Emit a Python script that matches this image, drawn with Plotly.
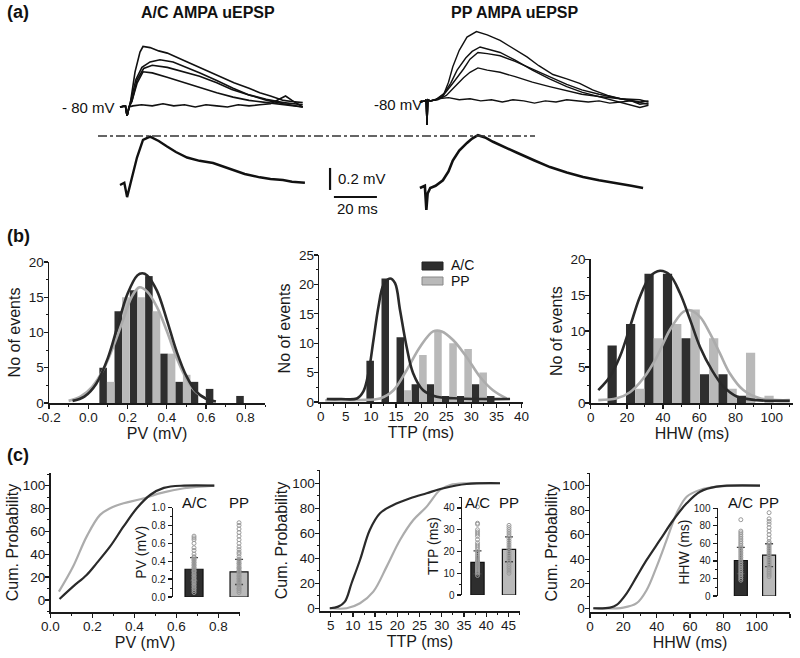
import plotly.graph_objects as go

W, H = 800, 658
def px(x): return x / W
def py(y): return 1 - y / H

FONT = "Liberation Sans, Arial, Helvetica, sans-serif"
DARK = "#2e2e2e"
LIGHT = "#b9b9b9"
DCURVE = "#2a2a2a"
LCURVE = "#acacac"

# ---------------- panel (a): example traces (time in ms, voltage re -80 mV in mV)
ac1_t = [0, 2.5, 3.3, 4.2, 5, 7, 9.3, 10.7, 14, 18, 22, 30, 37, 45, 53, 60, 65, 70, 76, 80, 85]
ac1_v = [0, 0.01, -0.08, 0.0, 0.06, 0.32, 0.5, 0.55, 0.54, 0.51, 0.49, 0.42, 0.36, 0.29, 0.22, 0.17, 0.13, 0.1, 0.06, 0.05, 0.04]
ac2_t = [0, 2.5, 3.3, 4.2, 5.1, 7.4, 10.2, 14, 18.6, 24.7, 30, 37.2, 45, 52.6, 60, 68.4, 76, 85]
ac2_v = [0, 0.01, -0.08, 0.0, 0.06, 0.25, 0.36, 0.41, 0.43, 0.41, 0.37, 0.31, 0.24, 0.17, 0.11, 0.06, 0.03, 0.0]
ac3_t = [0, 2.5, 3.3, 4.2, 5.5, 8, 11, 15, 22, 30, 37, 45, 52, 60, 68, 76, 85]
ac3_v = [0, 0.01, -0.08, 0, 0.05, 0.25, 0.35, 0.38, 0.36, 0.32, 0.28, 0.22, 0.16, 0.11, 0.07, 0.04, 0.02]
ac4_t = [0, 2.5, 3.3, 4.2, 5.5, 8, 10.7, 15, 21.9, 30, 37.2, 45, 52.6, 60, 68.4, 76, 85]
ac4_v = [0, 0.01, -0.08, 0, 0.05, 0.22, 0.32, 0.31, 0.27, 0.22, 0.18, 0.13, 0.09, 0.06, 0.04, 0.02, 0]
ac5_t = [0, 2.5, 3.3, 4.2, 6, 10, 15, 20, 25, 30, 35, 40, 45, 50, 55, 60, 65, 70, 74, 77, 80, 83, 85]
ac5_v = [0, 0.01, -0.08, 0, 0.01, 0.02, 0.01, 0.03, 0.01, 0.02, 0, 0.02, 0.01, 0, 0.02, 0.01, 0.02, 0.03, 0.07, 0.1, 0.06, 0.02, 0]
acavg_t = [0, 2, 3.3, 4.2, 5.6, 7.9, 10.7, 14, 18, 21.9, 26, 31.2, 37, 43.3, 48, 52.6, 58, 65, 70, 75.8, 80, 86]
acavg_v = [0, 0.02, -0.11, -0.03, 0.07, 0.25, 0.41, 0.44, 0.4, 0.35, 0.3, 0.25, 0.22, 0.2, 0.17, 0.14, 0.1, 0.07, 0.055, 0.045, 0.03, 0.02]

pp1_t = [-3.3, -1, -0.4, 0, 0.4, 1.5, 4, 7.4, 10, 12, 15, 18.6, 23, 28, 34, 40, 46.5, 52, 58.6, 65, 71, 77, 84, 90, 95, 99, 103]
pp1_v = [0, 0.01, 0.02, -0.21, 0.02, 0.01, 0.02, 0.05, 0.18, 0.32, 0.47, 0.59, 0.64, 0.61, 0.56, 0.49, 0.41, 0.33, 0.25, 0.21, 0.17, 0.11, 0.06, 0.03, 0.01, 0, -0.02]
pp2_t = [-3.3, -1, -0.4, 0, 0.4, 1.5, 4, 8, 11, 14, 18, 21, 24.7, 29, 34, 41, 49, 57, 65, 72, 80, 90, 99, 103]
pp2_v = [0, 0.01, 0.02, -0.21, 0.02, 0.01, 0.02, 0.08, 0.17, 0.29, 0.4, 0.46, 0.5, 0.48, 0.45, 0.38, 0.29, 0.21, 0.14, 0.09, 0.05, 0.0, -0.05, -0.03]
pp3_t = [-3.3, -1, -0.4, 0, 0.4, 1.5, 4, 8, 12, 17, 20, 23.7, 28, 34, 41, 49, 57, 65, 72, 80, 90, 99, 103]
pp3_v = [0, 0.01, 0.02, -0.21, 0.02, 0.01, 0.02, 0.07, 0.17, 0.3, 0.39, 0.45, 0.44, 0.42, 0.37, 0.3, 0.23, 0.16, 0.11, 0.07, 0.03, 0.0, 0.01]
pp4_t = [-3.3, -1, -0.4, 0, 0.4, 1.5, 5, 9, 12, 17, 20, 23.7, 28, 34, 41, 49, 57, 65, 72, 80, 90, 99, 103]
pp4_v = [0, 0.01, 0.02, -0.21, 0.02, 0.01, 0.02, 0.06, 0.12, 0.22, 0.27, 0.31, 0.29, 0.27, 0.23, 0.18, 0.14, 0.1, 0.07, 0.05, 0.03, 0.02, 0.0]
pp5_t = [-3.3, -1, -0.4, 0, 0.4, 1.5, 5, 10, 15, 20, 25, 30, 35, 40, 45, 50, 55, 60, 65, 70, 75, 80, 85, 90, 95, 99, 103]
pp5_v = [0, 0.01, 0.02, -0.21, 0.02, 0.01, 0.03, 0.04, 0.02, 0.03, 0.01, 0.02, 0.0, 0.02, 0.01, -0.01, 0.01, 0.0, 0.02, 0.01, 0.0, 0.01, -0.01, 0.0, 0.01, -0.02, -0.01]
ppavg_t = [-3.3, -1, -0.3, 0.3, 1.5, 4, 7.4, 10, 12, 15, 18.6, 21, 23.7, 27, 30.7, 36, 41.9, 50, 57.2, 65, 72.6, 80, 88.4, 95, 100.5]
ppavg_v = [0, 0.02, -0.2, -0.05, 0.0, 0.02, 0.07, 0.15, 0.25, 0.34, 0.41, 0.45, 0.48, 0.46, 0.42, 0.37, 0.32, 0.25, 0.19, 0.14, 0.1, 0.07, 0.045, 0.02, 0.0]

scale_mv = 0.2
scale_ms = 20

# ---------------- panel (b): histograms
pv_bins = [0.095, 0.172, 0.25, 0.328, 0.405, 0.482, 0.56, 0.637, 0.715, 0.792]
pv_ac = [5, 13, 16, 18, 7, 3, 3, 2, 0, 1]
pv_pp = [3, 15, 15, 13, 7, 4, 0, 0, 0, 0]
pv_fit_x_ac = [-0.08, -0.02, 0.04, 0.10, 0.15, 0.20, 0.25, 0.275, 0.30, 0.35, 0.40, 0.45, 0.50, 0.55, 0.60, 0.65]
pv_fit_ac = [0.3, 0.9, 2.7, 6.4, 11.0, 15.5, 18.1, 18.4, 18.1, 15.9, 11.8, 7.3, 3.8, 1.6, 0.6, 0.2]
pv_fit_x_pp = [-0.10, -0.04, 0.02, 0.08, 0.13, 0.18, 0.22, 0.26, 0.30, 0.35, 0.40, 0.45, 0.50, 0.55, 0.60]
pv_fit_pp = [0.3, 0.9, 2.3, 4.9, 8.2, 12.0, 15.0, 16.4, 15.8, 13.6, 10.2, 6.4, 3.4, 1.5, 0.6]
pv_ticks = [-0.2, 0.0, 0.2, 0.4, 0.6, 0.8]
pv_ticktext = ["-0.2", "0.0", "0.2", "0.4", "0.6", "0.8"]

ttp_bins = [10.6, 13.6, 16.6, 19.6, 22.6, 25.6, 28.6, 31.6, 34.6]
ttp_ac = [7, 21, 11, 3, 3, 1, 1, 3, 1]
ttp_pp = [0, 0, 2, 8, 12, 10, 9, 5, 0]
ttp_fit_x_ac = [1.2, 4, 7.2, 8.5, 9.5, 10.5, 11.5, 12.5, 13.8, 14.8, 15.8, 17.1, 18.4, 20.4, 23.1, 27.8, 32, 37.7]
ttp_fit_ac = [0.5, 0.5, 0.6, 1.8, 4.9, 10.5, 16.2, 19.9, 21.0, 20.2, 15.6, 9.4, 4.9, 2.0, 0.9, 0.6, 0.5, 0.5]
ttp_fit_x_pp = [0.9, 4, 7.8, 11.8, 14.5, 17.1, 19.8, 22.4, 24.1, 26.4, 29.0, 31.7, 34.3, 37.0]
ttp_fit_pp = [0.3, 0.3, 0.35, 0.6, 2.0, 5.4, 9.4, 12.0, 12.0, 10.5, 7.7, 4.3, 2.0, 0.6]

hhw_bins = [14.4, 24.6, 34.8, 45.0, 55.2, 65.4, 75.6, 85.8, 96.0]
hhw_ac = [8, 11, 18, 18, 9, 4, 4, 1, 0]
hhw_pp = [0, 2, 9, 11, 13, 9, 2, 7, 1]
hhw_fit_x_ac = [4.2, 10.7, 16.2, 21.7, 27.2, 32.8, 38.3, 43.8, 49.3, 54.9, 60.4, 66.9, 73.3, 80.7, 91.7, 110]
hhw_fit_ac = [1.8, 3.7, 6.5, 10.6, 14.8, 17.6, 18.4, 17.8, 15.3, 11.6, 7.8, 4.6, 2.3, 0.9, 0.4, 0.3]
hhw_fit_x_pp = [4.2, 14.4, 21.7, 29.0, 36.5, 43.8, 51.2, 54.9, 60.4, 65.9, 71.4, 76.9, 84.3, 93.5, 110]
hhw_fit_pp = [0.4, 0.65, 1.5, 3.4, 6.4, 10.2, 12.7, 12.9, 12.0, 9.7, 6.9, 4.1, 1.8, 0.65, 0.4]

# ---------------- panel (c): cumulative probability
cpv_x_ac = [0.043, 0.107, 0.172, 0.22, 0.284, 0.348, 0.412, 0.476, 0.54, 0.636, 0.78]
cpv_ac = [0.9, 11.7, 21.9, 32.2, 46.8, 64.3, 80.4, 92, 98, 100, 100]
cpv_x_pp = [0.04, 0.107, 0.172, 0.236, 0.284, 0.348, 0.428, 0.524, 0.636, 0.78]
cpv_pp = [7.3, 29, 55.4, 74.4, 80.2, 84.6, 88, 93.4, 97.7, 100]

cttp_x_ac = [4.8, 6.7, 8.2, 9.7, 11.6, 13.8, 16.1, 19.1, 22.9, 26.6, 30.4, 35.6, 43.1]
cttp_ac = [0, 1.3, 5.3, 20, 38.6, 62.6, 76, 82.6, 88, 92, 96, 99.4, 100]
cttp_x_pp = [4.8, 8.6, 11.6, 14.6, 17.6, 20.6, 23.6, 26.6, 29.6, 31.9, 35.6, 43.1]
cttp_pp = [0, 0, 4, 13.3, 33.3, 54.6, 70.6, 81.3, 94.6, 98.6, 100, 100]

chhw_x_ac = [2, 12, 16, 22, 28, 34, 42, 50, 58, 66, 76, 102]
chhw_ac = [0, 0.5, 2.7, 12.2, 25.8, 39.4, 55.7, 72, 85.6, 95.1, 99.2, 100]
chhw_x_pp = [2, 20, 28, 34, 40, 46, 52, 58, 66, 76, 102]
chhw_pp = [0, 0.5, 4.1, 14.9, 34, 55.7, 77.5, 91, 96.5, 99.2, 100]

# insets: mean, SD and individual events
groups = ["A/C", "PP"]
pv_mean = [0.31, 0.28]
pv_sd = [0.13, 0.14]
pv_pts_ac = [0.05, 0.07, 0.09, 0.1, 0.12, 0.13, 0.15, 0.16, 0.18, 0.19, 0.2, 0.22, 0.23, 0.25, 0.26, 0.28, 0.29, 0.3,
             0.32, 0.33, 0.35, 0.36, 0.38, 0.39, 0.41, 0.42, 0.44, 0.45, 0.48, 0.52, 0.55, 0.6, 0.64, 0.66, 0.68]
pv_pts_pp = [0.05, 0.07, 0.09, 0.1, 0.12, 0.14, 0.15, 0.17, 0.18, 0.2, 0.21, 0.23, 0.24, 0.26, 0.27, 0.29, 0.3, 0.32,
             0.33, 0.35, 0.37, 0.38, 0.4, 0.42, 0.45, 0.48, 0.5, 0.53, 0.56, 0.6, 0.64, 0.68, 0.72, 0.76, 0.8, 0.83]
ttp_mean = [15.0, 21.0]
ttp_sd = [5.3, 5.7]
ttp_pts_ac = [9, 10, 10.5, 11, 11.5, 12, 12.5, 13, 13.5, 14, 14.5, 15, 15.5, 16, 17, 18, 19, 20, 21, 22, 23, 24,
              25.5, 27, 28, 29, 30, 32.5, 33, 40.5]
ttp_pts_pp = [10, 11, 12, 13, 14, 15, 16, 17, 18, 19, 20, 21, 22, 23, 24, 25, 26, 27, 28, 29, 30, 31, 32]
hhw_mean = [40.5, 46.5]
hhw_sd = [15.0, 13.0]
hhw_pts_ac = [18, 20, 22, 24, 26, 28, 30, 32, 34, 36, 38, 40, 42, 44, 46, 48, 50, 52, 54, 56, 58, 60, 62, 64, 66,
              68, 70, 72, 74, 87]
hhw_pts_pp = [22, 24, 26, 28, 30, 32, 34, 36, 38, 40, 42, 44, 46, 48, 50, 52, 54, 56, 58, 60, 62, 66, 70, 74, 78,
              82, 85, 88, 95]

fig = go.Figure()

def add(trace, n):
    s = "" if n == 1 else str(n)
    trace.update(xaxis="x" + s, yaxis="y" + s, showlegend=False, hoverinfo="skip")
    fig.add_trace(trace)

# ---- (a) traces
for t, v in [(ac1_t, ac1_v), (ac2_t, ac2_v), (ac3_t, ac3_v), (ac4_t, ac4_v), (ac5_t, ac5_v)]:
    add(go.Scatter(x=t, y=v, mode="lines", line=dict(color="#111", width=1.6)), 1)
add(go.Scatter(x=acavg_t, y=acavg_v, mode="lines", line=dict(color="#111", width=2.4)), 2)
for t, v in [(pp1_t, pp1_v), (pp2_t, pp2_v), (pp3_t, pp3_v), (pp4_t, pp4_v), (pp5_t, pp5_v)]:
    add(go.Scatter(x=t, y=v, mode="lines", line=dict(color="#111", width=1.4)), 3)
add(go.Scatter(x=ppavg_t, y=ppavg_v, mode="lines", line=dict(color="#111", width=2.6)), 4)

# ---- (b) histograms
def hist(n, bins, ac, pp, fx_ac, f_ac, fx_pp, f_pp):
    step = bins[1] - bins[0]
    add(go.Bar(x=bins, y=ac, width=step / 2, offset=-step / 2, marker=dict(color=DARK, line=dict(width=0))), n)
    add(go.Bar(x=bins, y=pp, width=step / 2, offset=0, marker=dict(color=LIGHT, line=dict(width=0))), n)
    add(go.Scatter(x=fx_pp, y=f_pp, mode="lines", line=dict(color=LCURVE, width=2.6, shape="spline")), n)
    add(go.Scatter(x=fx_ac, y=f_ac, mode="lines", line=dict(color=DCURVE, width=2.6, shape="spline")), n)

hist(5, pv_bins, pv_ac, pv_pp, pv_fit_x_ac, pv_fit_ac, pv_fit_x_pp, pv_fit_pp)
hist(6, ttp_bins, ttp_ac, ttp_pp, ttp_fit_x_ac, ttp_fit_ac, ttp_fit_x_pp, ttp_fit_pp)
hist(7, hhw_bins, hhw_ac, hhw_pp, hhw_fit_x_ac, hhw_fit_ac, hhw_fit_x_pp, hhw_fit_pp)

# ---- (c) cumulative
for n, xa, ya, xp, yp in [(8, cpv_x_ac, cpv_ac, cpv_x_pp, cpv_pp),
                          (9, cttp_x_ac, cttp_ac, cttp_x_pp, cttp_pp),
                          (10, chhw_x_ac, chhw_ac, chhw_x_pp, chhw_pp)]:
    add(go.Scatter(x=xp, y=yp, mode="lines", line=dict(color=LCURVE, width=2.2, shape="spline")), n)
    add(go.Scatter(x=xa, y=ya, mode="lines", line=dict(color=DCURVE, width=2.2, shape="spline")), n)

# ---- insets
def inset(n, mean, sd, pts_ac, pts_pp, width):
    add(go.Bar(x=[0, 1], y=mean, width=width,
               marker=dict(color=[DARK, LIGHT], line=dict(color="#111", width=1.2)),
               error_y=dict(type="data", array=sd, visible=True, color="#444", thickness=1.4, width=4)), n)
    add(go.Scatter(x=[0] * len(pts_ac), y=pts_ac, mode="markers",
                   marker=dict(symbol="circle-open", size=4, color="#9a9a9a", line=dict(width=1))), n)
    add(go.Scatter(x=[1] * len(pts_pp), y=pts_pp, mode="markers",
                   marker=dict(symbol="circle-open", size=4, color="#9a9a9a", line=dict(width=1))), n)

inset(11, pv_mean, pv_sd, pv_pts_ac, pv_pts_pp, 0.4)
inset(12, ttp_mean, ttp_sd, ttp_pts_ac, ttp_pts_pp, 0.42)
inset(13, hhw_mean, hhw_sd, hhw_pts_ac, hhw_pts_pp, 0.46)

# ---------------- axes
def hidden(dom, rng, anchor):
    return dict(domain=dom, range=rng, visible=False, showgrid=False, zeroline=False, fixedrange=True,
                anchor=anchor, automargin=False)

def axis(dom, rng, dtick, minor, title=None, standoff=4, anchor=None, tsize=13.5, titlesize=16, ticklen=4,
         fmt=None, lstand=0):
    d = dict(domain=dom, range=rng, showline=True, linecolor="#1a1a1a", linewidth=1.5,
             ticks="outside", ticklen=ticklen, tickwidth=1.3, tickcolor="#1a1a1a", dtick=dtick, tick0=0,
             showgrid=False, zeroline=False, tickfont=dict(size=tsize, color="#1a1a1a"),
             minor=dict(ticks="outside", ticklen=max(2, ticklen - 2), tickwidth=1, tickcolor="#1a1a1a", dtick=minor),
             anchor=anchor, automargin=False, ticklabelstandoff=lstand, fixedrange=True)
    if fmt:
        d["tickformat"] = fmt
    if title:
        d["title"] = dict(text=title, standoff=standoff, font=dict(size=titlesize, color="#1a1a1a"))
    return d

XL = -3  # pull x tick labels a little closer to the axis line
YL = -3  # same for y tick labels

lay = {}
# (a)
lay["xaxis"] = hidden([px(100), px(400)], [-9.302, 130.233], "y")
lay["yaxis"] = hidden([py(125), py(25)], [-0.1636, 0.7455], "x")
lay["xaxis2"] = hidden([px(100), px(400)], [-9.302, 130.233], "y2")
lay["yaxis2"] = hidden([py(215), py(128)], [-0.2727, 0.5182], "x2")
lay["xaxis3"] = hidden([px(410), px(700)], [-7.907, 126.977], "y3")
lay["yaxis3"] = hidden([py(125), py(25)], [-0.2091, 0.7], "x3")
lay["xaxis4"] = hidden([px(410), px(700)], [-7.907, 126.977], "y4")
lay["yaxis4"] = hidden([py(215), py(128)], [-0.2455, 0.5455], "x4")
# (b)
lay["xaxis5"] = axis([px(49), px(265)], [-0.2, 0.9], 0.2, 0.1, "PV (mV)", 0, "y5", lstand=XL)
lay["xaxis5"].update(tickmode="array", tickvals=pv_ticks, ticktext=pv_ticktext)
lay["yaxis5"] = axis([py(403), py(262)], [0, 20], 5, 2.5, "No of events", 4, "x5", lstand=YL)
lay["xaxis6"] = axis([px(319.2), px(522.6)], [-0.3, 40.2], 5, 2.5, "TTP (ms)", 0, "y6", lstand=XL)
lay["yaxis6"] = axis([py(402), py(255)], [0, 25], 5, 2.5, "No of events", 4, "x6", lstand=YL)
lay["xaxis7"] = axis([px(590.7), px(793.4)], [0, 112], 20, 10, "HHW (ms)", 0, "y7", lstand=XL)
lay["yaxis7"] = axis([py(403), py(259.3)], [0, 20], 5, 2.5, "No of events", 4, "x7", lstand=YL)
# (c)
lay["xaxis8"] = axis([px(50.5), px(239.5)], [0, 0.9], 0.2, 0.1, "PV (mV)", 0, "y8", fmt=".1f", lstand=XL)
lay["yaxis8"] = axis([py(612), py(473)], [-10.5, 111], 20, 10, "Cum. Probability", 0, "x8", lstand=YL)
lay["xaxis9"] = axis([px(320), px(520)], [2.6, 47.6], 5, 2.5, "TTP (ms)", 0, "y9", lstand=XL)
lay["yaxis9"] = axis([py(611), py(470)], [-2.2, 110.6], 20, 10, "Cum. Probability", 0, "x9", lstand=YL)
lay["xaxis10"] = axis([px(590), px(790)], [0, 120], 20, 10, "HHW (ms)", 0, "y10", lstand=XL)
lay["yaxis10"] = axis([py(612.3), py(473.3)], [-3.3, 110.1], 20, 10, "Cum. Probability", 0, "x10", lstand=YL)
# insets
lay["xaxis11"] = hidden([px(173), px(262)], [-0.467, 1.51], "y11")
lay["yaxis11"] = axis([py(597), py(507.5)], [0, 1.0], 0.2, 0.1, "PV (mV)", 1, "x11", 10, 14, 4, fmt=".1f")
lay["xaxis12"] = hidden([px(462), px(525)], [-0.492, 1.508], "y12")
lay["yaxis12"] = axis([py(595), py(497.1)], [0, 45], 10, 5, "TTP (ms)", 1, "x12", 10, 14, 4)
lay["xaxis13"] = hidden([px(718), px(785)], [-0.809, 1.564], "y13")
lay["yaxis13"] = axis([py(596), py(508.3)], [0, 100], 20, 10, "HHW (ms)", 1, "x13", 10, 14, 4)

fig.update_layout(**lay)

ann = []
def text(x, y, s, size=15, bold=False, xanchor="center"):
    ann.append(dict(x=px(x), y=py(y), xref="paper", yref="paper",
                    text=("<b>%s</b>" % s) if bold else s, showarrow=False,
                    font=dict(size=size, color="#111", family=FONT), xanchor=xanchor, yanchor="middle"))

text(5, 12, "(a)", 18, True, "left")
text(5, 236, "(b)", 18, True, "left")
text(5, 455, "(c)", 18, True, "left")
text(208, 13, "A/C AMPA uEPSP", 16, True)
text(514, 13, "PP AMPA uEPSP", 16, True)
text(117, 107, "- 80 mV", 15, False, "right")
text(424, 104, "-80 mV", 15, False, "right")
text(336, 179, "0.2 mV", 15, False, "left")
text(357, 208, "20 ms", 15)
# legend of (b)
text(449, 265, "A/C", 14, False, "left")
text(449, 281, "PP", 14, False, "left")
# inset group labels
for xr, yy in [("x11", 502), ("x12", 502), ("x13", 503)]:
    for i in range(2):
        ann.append(dict(x=i, y=py(yy), xref=xr, yref="paper", text=groups[i], showarrow=False,
                        font=dict(size=15, color="#111", family=FONT), xanchor="center", yanchor="middle"))

shapes = [
    # peak alignment dash-dot line
    dict(type="line", xref="paper", yref="paper", x0=px(98), x1=px(535), y0=py(136), y1=py(136),
         line=dict(color="#333", width=1.4, dash="dashdot")),
    # scale bars (in data units of the A/C average trace axes)
    dict(type="line", xref="x2", yref="y2", x0=97.7, x1=97.7, y0=-0.045, y1=-0.045 + scale_mv,
         line=dict(color="#111", width=2.2)),
    dict(type="line", xref="x2", yref="y2", x0=99.5, x1=99.5 + scale_ms, y0=-0.109, y1=-0.109,
         line=dict(color="#111", width=2.2)),
    # legend swatches
    dict(type="rect", xref="paper", yref="paper", x0=px(422), x1=px(443), y0=py(270), y1=py(262),
         fillcolor=DARK, line=dict(color="#222", width=1)),
    dict(type="rect", xref="paper", yref="paper", x0=px(422), x1=px(443), y0=py(285), y1=py(277),
         fillcolor=LIGHT, line=dict(color="#888", width=1)),
]

fig.update_layout(
    width=W, height=H, margin=dict(l=0, r=0, t=0, b=0, pad=0, autoexpand=False),
    paper_bgcolor="white", plot_bgcolor="rgba(0,0,0,0)",
    font=dict(family=FONT, color="#111"),
    barmode="overlay", showlegend=False, hovermode=False,
    annotations=ann, shapes=shapes,
)

fig.write_html("out.html", config={"displayModeBar": False, "staticPlot": True},
               post_script="document.body.style.margin='0px';")
